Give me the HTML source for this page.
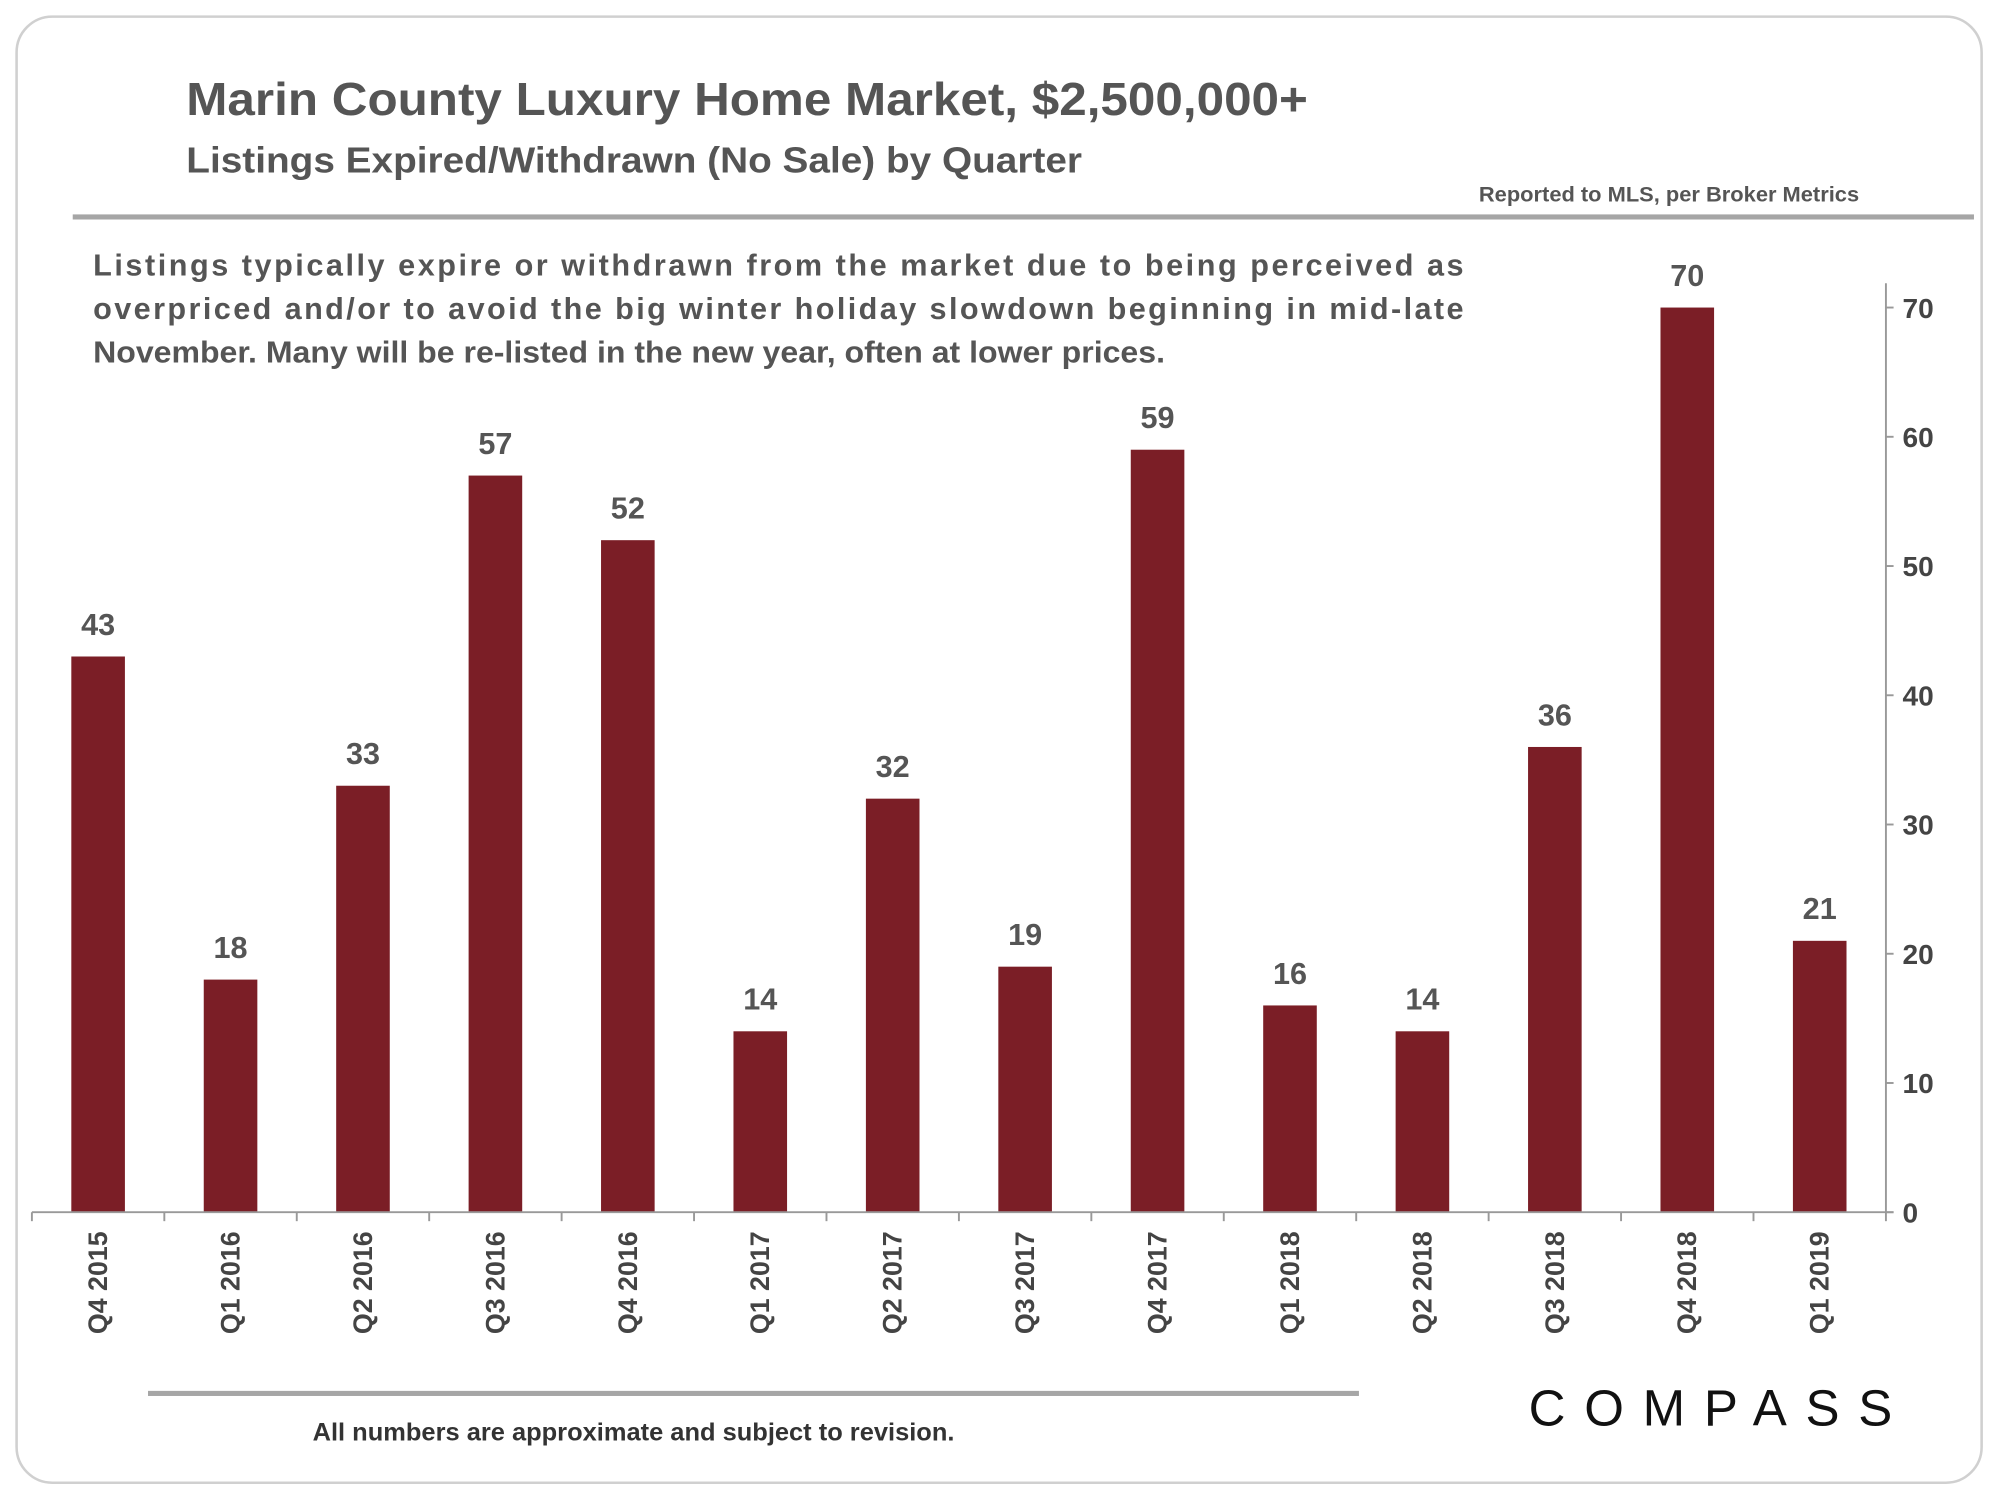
<!DOCTYPE html>
<html><head><meta charset="utf-8"><style>
html,body{margin:0;padding:0;background:#fff}
svg{display:block;font-family:"Liberation Sans",sans-serif}
</style></head><body>
<svg width="2000" height="1500" viewBox="0 0 1567.4 1175.5">
<rect x="13" y="13" width="1540" height="1149" rx="28" fill="#fff" stroke="#d0d0d0" stroke-width="2"/>
<text x="146" y="90" font-size="36" font-weight="bold" fill="#555" textLength="879" lengthAdjust="spacingAndGlyphs">Marin County Luxury Home Market, $2,500,000+</text>
<text x="146" y="135" font-size="28" font-weight="bold" fill="#555" textLength="702" lengthAdjust="spacingAndGlyphs">Listings Expired/Withdrawn (No Sale) by Quarter</text>
<text x="1159" y="158" font-size="16.5" font-weight="bold" fill="#555" textLength="298" lengthAdjust="spacingAndGlyphs">Reported to MLS, per Broker Metrics</text>
<rect x="57" y="168" width="1490" height="4" fill="#a6a6a6"/>
<g font-size="24" font-weight="bold" fill="#555">
<text x="73" y="216" textLength="1074" lengthAdjust="spacing">Listings typically expire or withdrawn from the market due to being perceived as</text>
<text x="73" y="250" textLength="1074" lengthAdjust="spacing">overpriced and/or to avoid the big winter holiday slowdown beginning in mid-late</text>
<text x="73" y="284" textLength="840" lengthAdjust="spacingAndGlyphs">November. Many will be re-listed in the new year, often at lower prices.</text>
</g>
<g id="plot"></g>
<rect x="116" y="1090" width="949" height="4" fill="#a6a6a6"/>
<text x="245" y="1129" font-size="19.5" font-weight="bold" fill="#333" textLength="503" lengthAdjust="spacingAndGlyphs">All numbers are approximate and subject to revision.</text>
<text x="1198" y="1117" font-size="40" fill="#111" textLength="285" lengthAdjust="spacing">COMPASS</text>
</svg>
<script>
const categories=["Q4 2015","Q1 2016","Q2 2016","Q3 2016","Q4 2016","Q1 2017","Q2 2017","Q3 2017","Q4 2017","Q1 2018","Q2 2018","Q3 2018","Q4 2018","Q1 2019"];
const values=[43,18,33,57,52,14,32,19,59,16,14,36,70,21];
const yTicks=[0,10,20,30,40,50,60,70];
const NS="http://www.w3.org/2000/svg";
const g=document.getElementById('plot');
const x0=25,x1=1478,yBase=950,yTop70=241;
const band=(x1-x0)/categories.length;
const xC=i=>x0+band*(i+0.5);
const y=v=>yBase-(yBase-yTop70)*v/70;
function mk(t,a){const e=document.createElementNS(NS,t);for(const k in a)e.setAttribute(k,a[k]);g.appendChild(e);return e;}
values.forEach((v,i)=>{
 const r=mk('rect',{x:xC(i)-21,y:y(v),width:42,height:yBase-y(v),fill:'#7b1e26'});
 
 
 const t=mk('text',{x:xC(i),y:y(v)-17,'font-size':24,'font-weight':'bold',fill:'#555','text-anchor':'middle'});
 t.textContent=v;
 
 
 const c=mk('text',{transform:`translate(${xC(i)+7},965) rotate(-90)`,'font-size':21,'font-weight':'bold',fill:'#444','text-anchor':'end'});
 c.textContent=categories[i];
 
 
});
const ax=mk('line',{x1:x0,y1:yBase,x2:x1+6,y2:yBase,stroke:'#999','stroke-width':1.5});


for(let i=0;i<=categories.length;i++){
 const tk=mk('line',{x1:x0+band*i,y1:yBase,x2:x0+band*i,y2:yBase+7,stroke:'#999','stroke-width':1.5});
 
 
}
const ay=mk('line',{x1:x1,y1:222,x2:x1,y2:yBase,stroke:'#999','stroke-width':1.5});


yTicks.forEach(v=>{
 const tk=mk('line',{x1:x1,y1:y(v),x2:x1+6,y2:y(v),stroke:'#999','stroke-width':1.5});
 
 
 const t=mk('text',{x:x1+13,y:y(v)+8,'font-size':22,'font-weight':'bold',fill:'#444'});
 t.textContent=v;
 
 
});
</script>
</body></html>
